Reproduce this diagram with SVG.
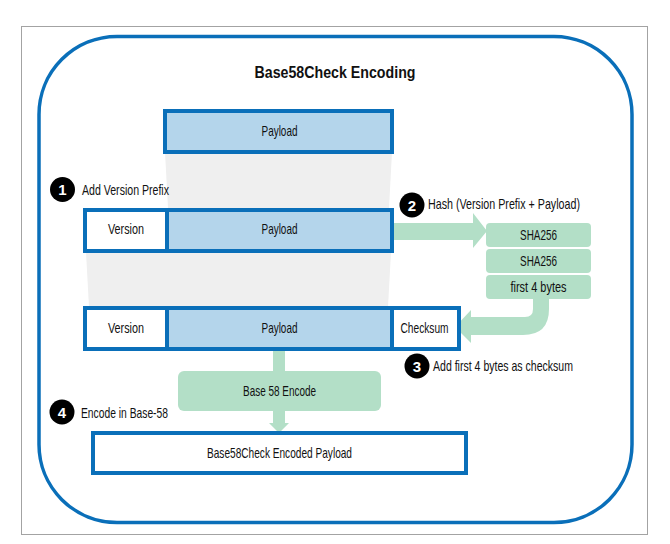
<svg xmlns="http://www.w3.org/2000/svg" width="670" height="544" viewBox="0 0 670 544">
<style>
.t{font-family:"Liberation Sans",Arial,sans-serif;font-size:15px;fill:#111;}
.c{text-anchor:middle;}
.blue{fill:#b4d5eb;stroke:#0a6fb9;stroke-width:4;}
.white{fill:#fff;stroke:#0a6fb9;stroke-width:4;}
.green{fill:#b3dfc7;}
.gray{fill:#efefef;}
.num{font-family:"Liberation Sans","DejaVu Sans",sans-serif;font-weight:bold;font-size:15px;fill:#fff;text-anchor:middle;}
</style>
<rect x="0" y="0" width="670" height="544" fill="#fff"/>
<rect x="21.5" y="26.5" width="626" height="508" fill="#fff" stroke="#a3a3a3" stroke-width="1"/>
<rect id="frame" x="39" y="36.5" width="593" height="486" rx="78" ry="78" fill="none" stroke="#0a6fb9" stroke-width="3.5"/>
<text id="title" x="335" y="78" class="t c" style="font-size:16.5px;font-weight:bold" textLength="161" lengthAdjust="spacingAndGlyphs">Base58Check Encoding</text>

<g id="bands">
<polygon class="gray" points="165,152 392,152 389,208 168,208"/>
<polygon class="gray" points="86,252 391,252 388,307 89,307"/>
</g>

<g id="connectors">
<path class="green" d="M392,223 L473,223 L473,213 L487,231 L473,248 L473,240 L392,240 Z"/>
<path class="green" d="M549,299 L549,309 Q549,335 523,335 L471,335 L471,343 L455,327 L471,310 L471,317 L525,317 Q533,317 533,309 L533,299 Z"/>
<rect class="green" x="273" y="350" width="12" height="22"/>
<path class="green" d="M273,410 L285,410 L285,423 L289,423 L279,433 L269,423 L273,423 Z"/>
</g>

<g id="payload-top">
<rect class="blue" x="165" y="111" width="227" height="41"/>
<text class="t c" x="279.5" y="136" textLength="36" lengthAdjust="spacingAndGlyphs">Payload</text>
</g>

<g id="step1">
<circle cx="62.5" cy="189.5" r="12.5" fill="#000"/>
<text class="num" x="62.5" y="195">1</text>
<text class="t" x="82" y="194.5" textLength="87" lengthAdjust="spacingAndGlyphs">Add Version Prefix</text>
</g>

<g id="row2">
<rect class="white" x="85" y="210" width="82" height="41"/>
<rect class="blue" x="167" y="210" width="225" height="41"/>
<text class="t c" x="126" y="234" textLength="36" lengthAdjust="spacingAndGlyphs">Version</text>
<text class="t c" x="279.5" y="234" textLength="36" lengthAdjust="spacingAndGlyphs">Payload</text>
</g>

<g id="step2">
<circle cx="412" cy="205" r="12.5" fill="#000"/>
<text class="num" x="412" y="210.5">2</text>
<text class="t" x="428" y="209" textLength="152" lengthAdjust="spacingAndGlyphs">Hash (Version Prefix + Payload)</text>
</g>

<g id="sha1">
<rect class="green" x="486" y="223" width="105" height="24" rx="4"/>
<text class="t c" x="538.5" y="240" textLength="37" lengthAdjust="spacingAndGlyphs">SHA256</text>
</g>
<g id="sha2">
<rect class="green" x="486" y="249" width="105" height="24" rx="4"/>
<text class="t c" x="538.5" y="266" textLength="37" lengthAdjust="spacingAndGlyphs">SHA256</text>
</g>
<g id="first4">
<rect class="green" x="486" y="275" width="105" height="24" rx="4"/>
<text class="t c" x="538.5" y="292" textLength="56" lengthAdjust="spacingAndGlyphs">first 4 bytes</text>
</g>

<g id="row3">
<rect class="white" x="85" y="308" width="82" height="41"/>
<rect class="white" x="392" y="308" width="67" height="41"/>
<rect class="blue" x="167" y="308" width="225" height="41"/>
<text class="t c" x="126" y="333" textLength="36" lengthAdjust="spacingAndGlyphs">Version</text>
<text class="t c" x="279.5" y="333" textLength="36" lengthAdjust="spacingAndGlyphs">Payload</text>
<text class="t c" x="424.5" y="333" textLength="48" lengthAdjust="spacingAndGlyphs">Checksum</text>
</g>

<g id="step3">
<circle cx="417" cy="366" r="12.5" fill="#000"/>
<text class="num" x="417" y="371.5">3</text>
<text class="t" x="433" y="371" textLength="140" lengthAdjust="spacingAndGlyphs">Add first 4 bytes as checksum</text>
</g>

<g id="encode">
<rect class="green" x="178" y="371" width="203" height="40" rx="6"/>
<text class="t c" x="279.5" y="396" textLength="73" lengthAdjust="spacingAndGlyphs">Base 58 Encode</text>
</g>

<g id="step4">
<circle cx="62" cy="412" r="12.5" fill="#000"/>
<text class="num" x="62" y="417.5">4</text>
<text class="t" x="81" y="418" textLength="87" lengthAdjust="spacingAndGlyphs">Encode in Base-58</text>
</g>

<g id="result">
<rect class="white" x="93" y="433" width="373" height="40"/>
<text class="t c" x="279.5" y="458" textLength="145" lengthAdjust="spacingAndGlyphs">Base58Check Encoded Payload</text>
</g>
</svg>
